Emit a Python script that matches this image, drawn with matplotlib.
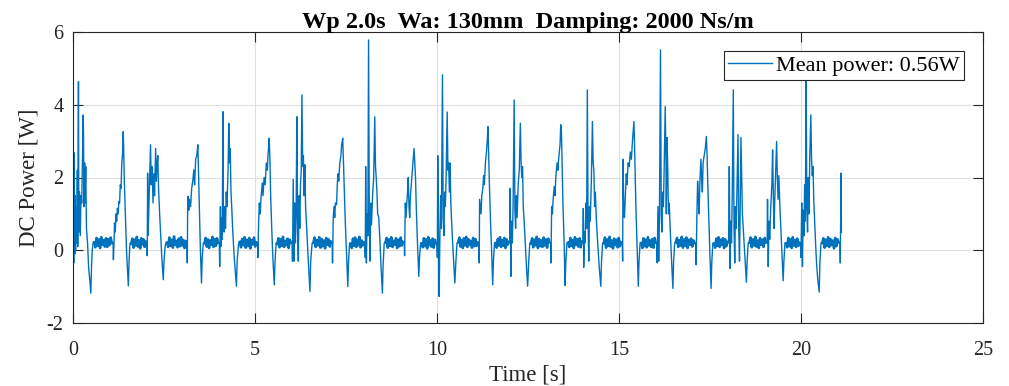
import numpy as np
import matplotlib
matplotlib.use("Agg")
import matplotlib.pyplot as plt

plt.rcParams['font.family'] = ['Liberation Serif', 'DejaVu Serif']
plt.rcParams['axes.unicode_minus'] = False

title_text = "Wp 2.0s  Wa: 130mm  Damping: 2000 Ns/m"
legend_label = "Mean power: 0.56W"
x_label = "Time [s]"
y_label = "DC Power [W]"
x_ticks = [0, 5, 10, 15, 20, 25]
y_ticks = [-2, 0, 2, 4, 6]

# Burst (active) parts of the signal: time [s], power [W]
burst_t = [
    0.00, 0.01, 0.02, 0.03, 0.04, 0.05, 0.06, 0.07, 0.09, 0.10, 0.12, 0.13, 0.15, 0.16, 0.18, 0.20, 0.22, 0.24, 0.26, 0.28, 0.29, 0.30, 0.32, 0.33, 0.35, 0.37, 0.40, 0.43, 0.46, 0.49, 0.51, 0.53, 0.55,
    1.10, 1.11, 1.13, 1.14, 1.16, 1.18, 1.20, 1.22, 1.24, 1.26, 1.28, 1.30, 1.32, 1.34, 1.36, 1.38, 1.39, 1.41, 1.44, 1.47, 1.50, 1.52, 1.54, 1.56, 1.57,
    2.03, 2.04, 2.05, 2.06, 2.08, 2.10, 2.13, 2.15, 2.17, 2.20, 2.22, 2.24, 2.27, 2.29, 2.31, 2.33, 2.35, 2.38, 2.41, 2.44, 2.48, 2.50, 2.53, 2.55,
    3.13, 3.14, 3.15, 3.16, 3.18, 3.20, 3.23, 3.26, 3.29, 3.32, 3.34, 3.37, 3.40, 3.43, 3.44, 3.46, 3.48, 3.50, 3.53, 3.55, 3.58,
    4.02, 4.03, 4.05, 4.06, 4.08, 4.10, 4.12, 4.13, 4.15, 4.17, 4.19, 4.21, 4.23, 4.26, 4.28, 4.30, 4.32, 4.34, 4.36, 4.39, 4.43, 4.46, 4.49, 4.51, 4.55,
    5.07, 5.08, 5.10, 5.12, 5.14, 5.17, 5.20, 5.22, 5.25, 5.28, 5.31, 5.34, 5.36, 5.38, 5.39, 5.41, 5.43, 5.46, 5.49, 5.53, 5.55, 5.58,
    6.02, 6.03, 6.05, 6.07, 6.09, 6.11, 6.13, 6.15, 6.17, 6.19, 6.21, 6.23, 6.25, 6.27, 6.29, 6.31, 6.33, 6.35, 6.37, 6.39, 6.42, 6.45, 6.48, 6.51, 6.53, 6.57,
    7.12, 7.13, 7.15, 7.17, 7.19, 7.21, 7.24, 7.26, 7.28, 7.30, 7.33, 7.36, 7.38, 7.41, 7.43, 7.45, 7.48, 7.51, 7.55, 7.57, 7.60,
    8.02, 8.03, 8.04, 8.06, 8.08, 8.10, 8.12, 8.14, 8.16, 8.18, 8.20, 8.23, 8.26, 8.29, 8.31, 8.33, 8.35, 8.37, 8.40, 8.43, 8.46, 8.50, 8.52, 8.55,
    9.10, 9.11, 9.13, 9.15, 9.17, 9.19, 9.21, 9.23, 9.25, 9.27, 9.30, 9.33, 9.35, 9.37, 9.39, 9.41, 9.43, 9.46, 9.50, 9.52, 9.55,
    10.00, 10.01, 10.02, 10.04, 10.06, 10.08, 10.10, 10.12, 10.15, 10.17, 10.19, 10.21, 10.23, 10.25, 10.28, 10.30, 10.32, 10.34, 10.36, 10.38, 10.41, 10.44, 10.49, 10.52, 10.55,
    11.15, 11.16, 11.17, 11.19, 11.21, 11.23, 11.26, 11.28, 11.30, 11.33, 11.35, 11.38, 11.40, 11.42, 11.44, 11.47, 11.50, 11.53, 11.55, 11.58,
    12.00, 12.01, 12.03, 12.05, 12.07, 12.09, 12.12, 12.14, 12.16, 12.18, 12.20, 12.23, 12.26, 12.29, 12.31, 12.33, 12.35, 12.37, 12.40, 12.43, 12.46, 12.49, 12.52, 12.55,
    13.12, 13.13, 13.15, 13.17, 13.19, 13.22, 13.24, 13.27, 13.30, 13.32, 13.35, 13.38, 13.40, 13.42, 13.44, 13.46, 13.49, 13.52, 13.54, 13.57,
    14.01, 14.02, 14.03, 14.05, 14.07, 14.09, 14.11, 14.13, 14.15, 14.17, 14.19, 14.21, 14.24, 14.27, 14.29, 14.31, 14.33, 14.35, 14.38, 14.42, 14.46, 14.50, 14.52, 14.55,
    15.09, 15.10, 15.11, 15.13, 15.15, 15.17, 15.20, 15.22, 15.25, 15.28, 15.31, 15.34, 15.37, 15.41, 15.43, 15.45, 15.47, 15.50, 15.53, 15.55, 15.58,
    16.04, 16.05, 16.07, 16.09, 16.11, 16.14, 16.16, 16.18, 16.20, 16.22, 16.24, 16.27, 16.29, 16.30, 16.32, 16.34, 16.36, 16.38, 16.41, 16.44, 16.48, 16.50, 16.53,
    17.11, 17.12, 17.14, 17.16, 17.18, 17.20, 17.22, 17.25, 17.27, 17.29, 17.31, 17.34, 17.37, 17.40, 17.42, 17.44, 17.47, 17.50, 17.53, 17.55, 17.58,
    18.01, 18.03, 18.05, 18.07, 18.09, 18.11, 18.14, 18.16, 18.18, 18.20, 18.22, 18.24, 18.27, 18.29, 18.31, 18.33, 18.35, 18.37, 18.39, 18.42, 18.46, 18.50, 18.52, 18.55,
    19.07, 19.08, 19.10, 19.12, 19.14, 19.17, 19.20, 19.22, 19.24, 19.26, 19.28, 19.31, 19.33, 19.35, 19.37, 19.39, 19.42, 19.45, 19.48, 19.51, 19.53, 19.56,
    19.99, 20.00, 20.02, 20.04, 20.06, 20.08, 20.10, 20.12, 20.14, 20.16, 20.18, 20.20, 20.22, 20.24, 20.27, 20.29, 20.31, 20.33, 20.35, 20.37, 20.40, 20.43, 20.46, 20.50, 20.52, 20.55,
    21.07, 21.08, 21.09, 21.10, 21.11,
]
burst_p = [
    -0.30, 0.40, -0.35, 2.68, 0.30, -0.10, 1.50, 0.00, 1.20, 0.20, 2.20, 0.10, 4.64, 0.50, 1.60, 0.40, 1.50, 1.30, 2.50, 3.72, 3.10, 1.20, 2.40, 1.30, 2.30, 0.60, 0.20, -0.50, -0.80, -1.18, -0.40, 0.00, 0.20,
    0.20, -0.26, 0.30, 0.75, 0.50, 1.00, 0.80, 1.15, 1.00, 1.34, 1.30, 1.80, 1.70, 2.40, 2.60, 3.26, 2.90, 1.90, 0.90, 0.00, -0.60, -0.98, -0.30, 0.10, 0.20,
    0.20, -0.15, 2.12, 0.40, 1.00, 1.80, 2.90, 1.80, 2.30, 1.30, 2.10, 1.50, 2.80, 1.90, 2.40, 2.60, 1.70, 1.00, 0.40, -0.20, -0.81, -0.30, 0.10, 0.20,
    0.20, -0.35, 1.20, 1.48, 1.10, 1.40, 1.20, 1.70, 1.90, 2.21, 1.80, 2.50, 2.60, 2.90, 2.50, 1.60, 0.80, 0.00, -0.90, -0.20, 0.20,
    0.20, -0.45, 1.20, 0.10, 0.90, 0.30, 3.81, 1.00, 0.50, 1.20, 0.60, 1.60, 1.20, 2.20, 3.49, 2.40, 2.80, 1.60, 1.20, 0.50, -0.20, -0.60, -0.99, -0.30, 0.20,
    0.20, -0.20, 0.80, 1.30, 1.00, 1.50, 1.85, 1.50, 2.00, 1.80, 2.40, 2.20, 2.67, 2.90, 3.08, 2.50, 1.50, 0.60, -0.20, -0.95, -0.30, 0.20,
    0.20, -0.30, 1.95, -0.30, 1.30, 0.20, 1.00, 3.67, 0.50, -0.30, 1.50, 0.60, 1.80, 2.20, 4.27, 2.30, 2.60, 1.50, 2.35, 1.20, 0.60, 0.00, -0.60, -1.13, -0.30, 0.20,
    0.20, -0.35, 0.90, 1.20, 0.90, 1.30, 1.25, 1.80, 2.10, 1.90, 2.40, 2.60, 2.90, 3.08, 2.40, 1.80, 0.80, 0.00, -1.00, -0.30, 0.20,
    0.20, -0.20, 2.30, -0.35, 1.00, 0.40, 5.78, 0.80, -0.30, 1.30, 0.70, 1.50, 2.00, 3.67, 2.30, 2.00, 1.60, 1.00, 0.90, 0.30, -0.40, -1.18, -0.40, 0.20,
    0.20, -0.15, 1.30, 0.90, 1.30, 1.60, 2.00, 1.20, 0.90, 1.50, 1.90, 2.30, 2.60, 2.80, 2.40, 2.00, 1.20, 0.30, -0.72, -0.20, 0.20,
    0.20, -0.20, 2.60, 0.30, -1.27, 0.50, 1.50, 0.60, 4.82, 0.90, 0.40, 1.60, 1.20, 2.00, 3.80, 2.20, 2.40, 1.60, 2.40, 1.30, 0.60, 0.00, -0.90, -0.30, 0.20,
    0.20, -0.35, 1.40, 1.20, 1.00, 1.50, 1.70, 2.05, 1.80, 2.40, 2.60, 3.00, 3.40, 2.60, 1.80, 0.80, 0.00, -0.95, -0.30, 0.20,
    0.20, 1.70, -0.72, 0.80, 0.20, 1.20, 4.13, 1.10, 0.60, 1.50, 0.90, 1.80, 2.20, 3.49, 2.40, 2.00, 2.30, 1.20, 0.70, 0.10, -0.50, -0.99, -0.30, 0.20,
    0.20, -0.35, 1.20, 1.00, 1.40, 1.75, 1.50, 2.10, 2.40, 2.20, 2.60, 2.90, 3.45, 3.20, 2.30, 1.30, 0.30, -0.97, -0.30, 0.20,
    0.20, 1.15, -0.47, 0.50, 0.20, 1.30, 0.60, 4.41, 0.80, -0.30, 1.20, 0.80, 1.90, 3.54, 2.40, 2.20, 1.20, 1.60, 0.80, 0.10, -0.50, -0.99, -0.30, 0.20,
    0.20, -0.30, 2.50, 1.20, 0.90, 1.40, 2.10, 1.80, 2.40, 2.30, 2.70, 2.50, 3.00, 3.54, 2.80, 1.80, 1.00, 0.00, -0.99, -0.30, 0.20,
    0.20, -0.35, 1.20, -0.30, 0.80, 5.51, 1.00, 0.50, 1.60, 1.20, 2.20, 3.95, 2.50, 1.00, 3.10, 2.20, 1.00, 1.30, 0.50, -0.20, -1.05, -0.30, 0.20,
    0.20, -0.40, 1.00, 1.90, 1.40, 1.00, 1.80, 2.50, 2.00, 1.60, 2.40, 2.60, 2.80, 3.13, 2.60, 1.80, 0.80, -0.20, -1.05, -0.30, 0.20,
    0.20, 2.30, -0.50, 0.80, 0.20, 1.40, 4.41, 0.60, -0.35, 1.20, 0.60, 1.60, 3.18, 0.60, -0.30, 1.20, 3.10, 2.00, 1.00, 0.50, -0.20, -0.88, -0.30, 0.20,
    0.20, 1.40, -0.45, 0.80, 0.30, 1.20, 1.80, 2.76, 1.50, 0.60, 1.40, 2.30, 2.99, 2.00, 1.40, 2.05, 1.20, 0.50, -0.20, -0.84, -0.30, 0.20,
    0.20, -0.20, 1.30, -0.45, 1.10, 0.40, 1.80, 0.80, 4.90, 1.20, 0.50, 2.00, 1.00, 2.50, 3.72, 2.50, 2.05, 2.30, 1.40, 0.90, 0.20, -0.40, -0.80, -1.15, -0.30, 0.20,
    0.20, -0.35, 0.80, 2.12, 0.50,
]

# Quiet (idle) stretches: start/end times [s] and the jittery power levels read between them
quiet_start = [0.55, 1.57, 2.55, 3.58, 4.55, 5.58, 6.57, 7.60, 8.55, 9.55, 10.55,
               11.58, 12.55, 13.57, 14.55, 15.58, 16.53, 17.58, 18.55, 19.56, 20.55]
quiet_end = [1.10, 2.03, 3.13, 4.02, 5.07, 6.02, 7.12, 8.02, 9.10, 10.00, 11.15,
             12.00, 13.12, 14.01, 15.09, 16.04, 17.11, 18.01, 19.07, 19.99, 21.07]
quiet_levels = [
    [0.22, 0.08, 0.34, 0.12, 0.30, 0.06, 0.36, 0.15, 0.28, 0.10, 0.33, 0.09, 0.31, 0.14, 0.35, 0.20],
    [0.18, 0.32, 0.07, 0.29, 0.13, 0.37, 0.10, 0.27, 0.05, 0.33, 0.16, 0.30, 0.09, 0.24],
    [0.21, 0.09, 0.35, 0.12, 0.29, 0.07, 0.38, 0.14, 0.26, 0.08, 0.32, 0.11, 0.36, 0.13, 0.28, 0.06, 0.25],
    [0.19, 0.34, 0.10, 0.30, 0.06, 0.27, 0.15, 0.37, 0.09, 0.31, 0.12, 0.33, 0.20],
    [0.23, 0.08, 0.31, 0.14, 0.36, 0.07, 0.29, 0.11, 0.34, 0.05, 0.28, 0.16, 0.35, 0.10, 0.22],
    [0.17, 0.33, 0.08, 0.30, 0.12, 0.37, 0.09, 0.26, 0.14, 0.32, 0.06, 0.29, 0.21],
    [0.20, 0.35, 0.09, 0.28, 0.13, 0.36, 0.07, 0.31, 0.11, 0.27, 0.05, 0.34, 0.15, 0.30, 0.10, 0.24],
    [0.18, 0.06, 0.32, 0.12, 0.35, 0.09, 0.29, 0.14, 0.37, 0.08, 0.27, 0.13, 0.22],
    [0.21, 0.34, 0.07, 0.30, 0.12, 0.36, 0.09, 0.26, 0.15, 0.33, 0.06, 0.29, 0.11, 0.35, 0.13, 0.23],
    [0.19, 0.08, 0.33, 0.11, 0.30, 0.05, 0.36, 0.14, 0.27, 0.10, 0.32, 0.07, 0.29, 0.20],
    [0.22, 0.35, 0.10, 0.28, 0.06, 0.33, 0.13, 0.37, 0.09, 0.30, 0.15, 0.26, 0.07, 0.34, 0.11, 0.31, 0.12, 0.21],
    [0.20, 0.07, 0.31, 0.13, 0.36, 0.09, 0.28, 0.12, 0.34, 0.06, 0.30, 0.15, 0.23],
    [0.18, 0.33, 0.08, 0.29, 0.14, 0.37, 0.06, 0.31, 0.11, 0.27, 0.09, 0.35, 0.13, 0.30, 0.07, 0.32, 0.22],
    [0.21, 0.09, 0.34, 0.12, 0.28, 0.06, 0.36, 0.15, 0.30, 0.10, 0.33, 0.08, 0.24],
    [0.19, 0.35, 0.07, 0.30, 0.12, 0.37, 0.10, 0.27, 0.05, 0.32, 0.14, 0.29, 0.08, 0.34, 0.11, 0.22],
    [0.20, 0.06, 0.33, 0.11, 0.29, 0.08, 0.36, 0.13, 0.27, 0.09, 0.31, 0.07, 0.34, 0.21],
    [0.22, 0.34, 0.09, 0.28, 0.13, 0.37, 0.07, 0.30, 0.12, 0.35, 0.06, 0.29, 0.15, 0.32, 0.10, 0.27, 0.20],
    [0.18, 0.07, 0.32, 0.12, 0.36, 0.09, 0.29, 0.14, 0.33, 0.06, 0.30, 0.11, 0.23],
    [0.21, 0.35, 0.08, 0.30, 0.13, 0.37, 0.10, 0.27, 0.06, 0.33, 0.15, 0.29, 0.09, 0.34, 0.22],
    [0.19, 0.08, 0.34, 0.11, 0.30, 0.06, 0.36, 0.13, 0.28, 0.09, 0.32, 0.12, 0.21],
    [0.20, 0.33, 0.07, 0.29, 0.12, 0.36, 0.09, 0.31, 0.14, 0.27, 0.05, 0.34, 0.11, 0.30, 0.22],
]

# ---- assemble the trace ----
t_parts = [np.asarray(burst_t, float)]
p_parts = [np.asarray(burst_p, float)]
quiet_t_list = []
for s, e, lv in zip(quiet_start, quiet_end, quiet_levels):
    tt = np.linspace(s, e, len(lv) + 2)[1:-1]
    quiet_t_list.append(tt)
    t_parts.append(tt)
    p_parts.append(np.asarray(lv, float))
t_all = np.concatenate(t_parts)
p_all = np.concatenate(p_parts)
order = np.argsort(t_all, kind="stable")
t_all = t_all[order]
p_all = p_all[order]

W, H = 1009, 386
fig = plt.figure(figsize=(W / 100, H / 100), dpi=100)
ax = fig.add_axes([73 / W, 1 - 323 / H, (983 - 73) / W, (323 - 32) / H])

line_color = "#0072BD"
ax.plot(t_all, p_all, color=line_color, lw=1.0, label=legend_label)
# idle stretches look like a dense solid band in the original (high sample rate)
for tt, lv in zip(quiet_t_list, quiet_levels):
    ax.plot(tt, lv, color=line_color, lw=1.8)

ax.set_xlim(0, 25)
ax.set_ylim(-2, 6)
ax.set_xticks(x_ticks)
ax.set_yticks(y_ticks)
ax.set_xticklabels([str(v) for v in x_ticks])
ax.set_yticklabels([str(v) for v in y_ticks])
ax.grid(True, color="#e0e0e0", lw=0.8)
ax.set_axisbelow(True)
axis_color = "#262626"
for sp in ax.spines.values():
    sp.set_color(axis_color)
    sp.set_linewidth(0.8)
ax.tick_params(axis="both", direction="in", length=7, width=0.8, colors=axis_color,
               top=True, right=True, labelsize=14.5)
ax.tick_params(axis="x", pad=13)
ax.tick_params(axis="y", pad=7)
for lab in ax.get_xticklabels() + ax.get_yticklabels():
    lab.set_color("#262626")

ax.set_xlabel(x_label, fontsize=16.5, color="#262626", labelpad=3)
ax.set_ylabel(y_label, fontsize=16.5, color="#262626", labelpad=5)
ax.set_title(title_text, fontsize=17.5, fontweight="bold", color="black", pad=3)

leg = ax.legend(loc="upper right", fontsize=16, frameon=True, fancybox=False,
                framealpha=1, edgecolor="#262626", handlelength=1.95,
                handletextpad=0.2, borderpad=0.2, borderaxespad=0.85)
leg.get_frame().set_linewidth(0.8)
for h in leg.get_lines():
    h.set_linewidth(1.0)

fig.savefig("out.png", dpi=100)
